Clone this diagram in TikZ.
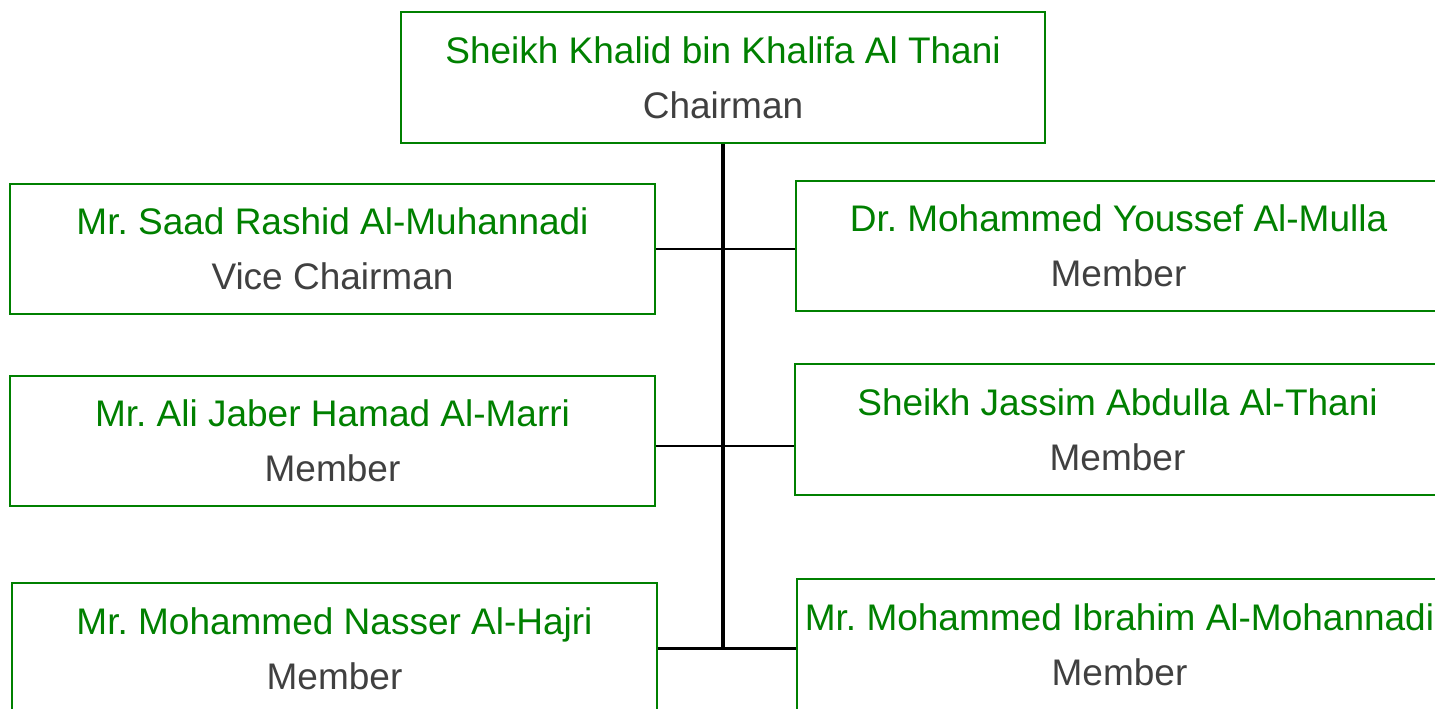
\documentclass[tikz,border=0pt]{standalone}
\usepackage{fontspec}
\setmainfont{Liberation Sans}
\usepackage{tikz}
\usetikzlibrary{calc,positioning}
\definecolor{bgreen}{HTML}{008000}
\definecolor{rolegray}{HTML}{404040}
\newcommand{\Nm}[1]{\textcolor{bgreen}{#1}}
\frenchspacing
\tikzset{
	member/.style={draw=bgreen,line width=2.5pt,minimum width=645pt,minimum height=131pt,
		align=center,text=rolegray,inner sep=0pt,font=\fontsize{37}{55}\selectfont},
	link/.style={draw=black,line width=2.4pt}
}
\begin{document}
\begin{tikzpicture}[x=1pt,y=-1pt]
		\useasboundingbox (0,0) rectangle (1435,709);
		\clip (0,0) rectangle (1435,709);
		\node[member,minimum width=644pt] (chair) at (723,77.5) {\Nm{Sheikh Khalid bin Khalifa Al Thani}\\ Chairman};
		\node[member,minimum height=130pt] (vice) at (332.5,249) {\Nm{Mr. Saad Rashid Al-Muhannadi}\\ Vice Chairman};
		\node[member,minimum height=130pt] (mulla) at (1118.5,246) {\Nm{Dr. Mohammed Youssef Al-Mulla}\\ Member};
		\node[member,minimum height=130pt] (marri) at (332.5,441) {\Nm{Mr. Ali Jaber Hamad Al-Marri}\\ Member};
		\node[member] (jassim) at (1117.5,429.5) {\Nm{Sheikh Jassim Abdulla Al-Thani}\\ Member};
		\node[member] (hajri) at (334.5,648.5) {\Nm{Mr. Mohammed Nasser Al-Hajri}\\ Member};
		\node[member] (mohannadi) at (1119.5,644.5) {\Nm{Mr. Mohammed Ibrahim Al-Mohannadi}\\ Member};
		% trunk and branches
		\path[link,line width=3.2pt] (chair.south) edge ($(chair.south |- hajri.east)$);
		\path[link]
		(vice.east) edge (vice.east -| mulla.west)
		([yshift=-5pt]marri.east) edge ([yshift=-5pt]marri.east -| jassim.west)
		(hajri.east) edge (hajri.east -| mohannadi.west);
\end{tikzpicture}
\end{document}
